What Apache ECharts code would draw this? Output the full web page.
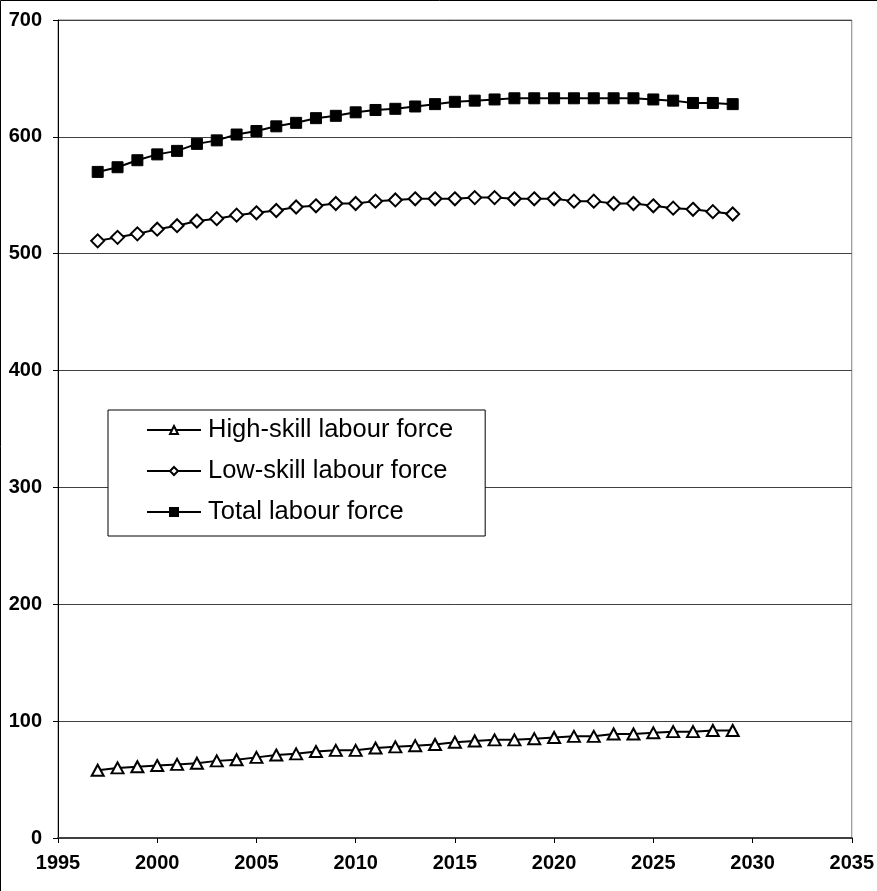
<!DOCTYPE html>
<html>
<head>
<meta charset="utf-8">
<script src="https://cdn.jsdelivr.net/npm/echarts@6/dist/echarts.min.js"></script>
<style>
html,body{margin:0;padding:0;background:#fff;}
#chart{width:877px;height:891px;}
</style>
</head>
<body>
<div id="chart"></div>
<script>
var years = [1997,1998,1999,2000,2001,2002,2003,2004,2005,2006,2007,2008,2009,2010,2011,2012,2013,2014,2015,2016,2017,2018,2019,2020,2021,2022,2023,2024,2025,2026,2027,2028,2029];
var highSkill = [58,60,61,62,63,64,66,67,69,71,72,74,75,75,77,78,79,80,82,83,84,84,85,86,87,87,89,89,90,91,91,92,92];
var lowSkill = [511,514,517,521,524,528,530,533,535,537,540,541,543,543,545,546,547,547,547,548,548,547,547,547,545,545,543,543,541,539,538,536,534];
var total = [570,574,580,585,588,594,597,602,605,609,612,616,618,621,623,624,626,628,630,631,632,633,633,633,633,633,633,633,632,631,629,629,628];
var seriesNames = ['High-skill labour force','Low-skill labour force','Total labour force'];

function pairs(vals){ return years.map(function(y,i){ return [y, vals[i]]; }); }

var chart = echarts.init(document.getElementById('chart'), null, {renderer:'canvas'});
var font = 'Liberation Sans, Arial, sans-serif';
chart.setOption({
  animation:false,
  backgroundColor:'#fff',
  graphic:[{type:'rect', shape:{x:0.5,y:0.5,width:1000,height:1000}, style:{fill:'none', stroke:'#000', lineWidth:1}, silent:true, z:-1}],
  grid:{left:58, right:24, top:20, bottom:53, show:true, borderColor:'#808080', borderWidth:1},
  xAxis:{type:'value', min:1995, max:2035, interval:5,
    axisLine:{show:true, lineStyle:{color:'#404040', width:2}},
    axisTick:{show:true, length:5, lineStyle:{color:'#000'}},
    splitLine:{show:false},
    axisLabel:{fontFamily:font, fontWeight:'bold', fontSize:20, color:'#000', margin:15,
      formatter:function(v){ return String(v); }}},
  yAxis:{type:'value', min:0, max:700, interval:100,
    axisLine:{show:true, lineStyle:{color:'#000', width:1}},
    axisTick:{show:true, length:5, lineStyle:{color:'#000'}},
    splitLine:{show:true, lineStyle:{color:'#404040', width:1}},
    axisLabel:{fontFamily:font, fontWeight:'bold', fontSize:20, color:'#000', margin:16}},
  legend:{orient:'vertical', left:108, top:410, data:seriesNames,
    padding:[7,32,11,38], itemGap:15, itemWidth:54, itemHeight:10,
    borderColor:'#000', borderWidth:1, backgroundColor:'#fff',
    textStyle:{fontFamily:font, fontSize:25.5, color:'#000', padding:[0,0,0,2]}},
  series:[
    {name:seriesNames[0], type:'line', data:pairs(highSkill), symbol:'triangle', symbolSize:[12,11],
     lineStyle:{color:'#000', width:2}, itemStyle:{color:'#fff', borderColor:'#000', borderWidth:2}},
    {name:seriesNames[1], type:'line', data:pairs(lowSkill), symbol:'diamond', symbolSize:13,
     lineStyle:{color:'#000', width:2}, itemStyle:{color:'#fff', borderColor:'#000', borderWidth:2}},
    {name:seriesNames[2], type:'line', data:pairs(total), symbol:'rect', symbolSize:11,
     lineStyle:{color:'#000', width:2}, itemStyle:{color:'#000', borderColor:'#000', borderWidth:1}}
  ]
});
</script>
</body>
</html>
